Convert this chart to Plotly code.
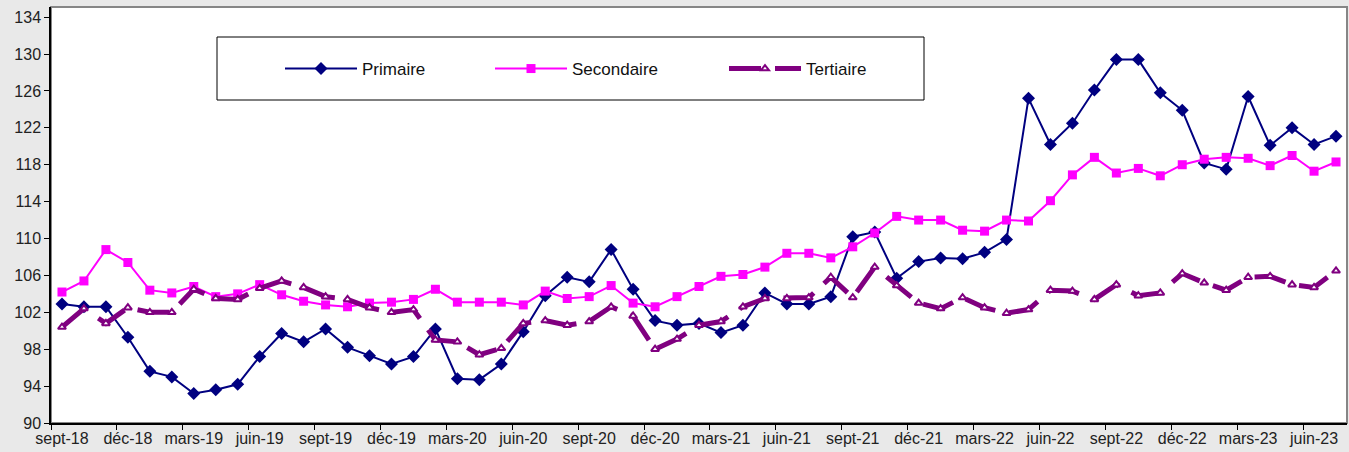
import plotly.graph_objects as go

months_fr = ["janv", "févr", "mars", "avr", "mai", "juin", "juil", "août", "sept", "oct", "nov", "déc"]
# categories: sept-18 .. juil-23
categories = []
y, m = 2018, 8
for _ in range(59):
    categories.append(f"{months_fr[m]}-{str(y)[2:]}")
    m += 1
    if m == 12:
        m = 0
        y += 1

primaire = [102.9, 102.6, 102.6, 99.3, 95.6, 95.0, 93.2, 93.6, 94.2, 97.2, 99.7, 98.8,
            100.2, 98.2, 97.3, 96.4, 97.2, 100.2, 94.8, 94.7, 96.4, 99.9, 103.8, 105.8,
            105.3, 108.8, 104.5, 101.1, 100.6, 100.8, 99.8, 100.6, 104.1, 102.9, 102.9, 103.7,
            110.2, 110.7, 105.7, 107.5, 107.9, 107.8, 108.5, 109.9, 125.2, 120.2, 122.5, 126.1,
            129.4, 129.4, 125.8, 123.9, 118.2, 117.5, 125.4, 120.1, 122.0, 120.2, 121.1]
secondaire = [104.2, 105.4, 108.8, 107.4, 104.4, 104.1, 104.8, 103.7, 104.0, 105.0, 103.9, 103.2,
              102.8, 102.6, 103.0, 103.1, 103.4, 104.5, 103.1, 103.1, 103.1, 102.8, 104.3, 103.5,
              103.7, 104.9, 103.0, 102.6, 103.7, 104.8, 105.9, 106.1, 106.9, 108.4, 108.4, 107.9,
              109.1, 110.6, 112.4, 112.0, 112.0, 110.9, 110.8, 112.0, 111.9, 114.1, 116.9, 118.8,
              117.1, 117.6, 116.8, 118.0, 118.6, 118.8, 118.7, 117.9, 119.0, 117.3, 118.3]
tertiaire = [100.4, 102.4, 100.8, 102.5, 102.0, 102.0, 104.5, 103.5, 103.4, 104.6, 105.4, 104.7,
             103.7, 103.4, 102.5, 102.0, 102.3, 99.0, 98.8, 97.4, 98.1, 100.8, 101.1, 100.6,
             101.0, 102.6, 101.6, 98.0, 99.1, 100.6, 101.0, 102.6, 103.5, 103.5, 103.6, 105.8,
             103.6, 106.9, 104.9, 103.0, 102.4, 103.6, 102.5, 101.9, 102.3, 104.4, 104.3, 103.4,
             105.0, 103.8, 104.1, 106.2, 105.2, 104.4, 105.8, 105.9, 105.0, 104.7, 106.5]

y_ticks = list(range(90, 135, 4))

FONT = "Liberation Sans, Arial, sans-serif"

fig = go.Figure()
fig.add_trace(go.Scatter(
    x=categories, y=primaire, name="Primaire", mode="lines+markers",
    line=dict(color="#000080", width=2),
    marker=dict(symbol="diamond", size=10, color="#000080"),
    legend="legend", showlegend=True))
fig.add_trace(go.Scatter(
    x=categories, y=secondaire, name="Secondaire", mode="lines+markers",
    line=dict(color="#FF00FF", width=2),
    marker=dict(symbol="square", size=9, color="#FF00FF"),
    legend="legend2", showlegend=True))
fig.add_trace(go.Scatter(
    x=categories, y=tertiaire, name="Tertiaire", mode="lines+markers",
    line=dict(color="#800080", width=5, dash="32px,14px"),
    marker=dict(symbol="triangle-up", size=7, color="white",
                line=dict(color="#800080", width=2)),
    legend="legend3", showlegend=True))

L, R, T, B = 51, 2, 7, 29
W, H = 1349, 452
pw, ph = W - L - R, H - T - B

def px_x(p):
    return (p - L) / pw

def px_y(p):
    return (H - B - p) / ph

leg_common = dict(orientation="h", bgcolor="rgba(0,0,0,0)", borderwidth=0,
                  font=dict(family=FONT, size=17, color="#111111"),
                  itemwidth=72, yanchor="middle", xanchor="left", y=px_y(69))

fig.update_layout(
    width=W, height=H,
    margin=dict(l=L, r=R, t=T, b=B, autoexpand=False),
    paper_bgcolor="#e9e9e9",
    plot_bgcolor="white",
    showlegend=True,
    font=dict(family=FONT, size=16, color="#222222"),
    legend=dict(**leg_common, x=px_x(280)),
    legend2=dict(**leg_common, x=px_x(490)),
    legend3=dict(**leg_common, x=px_x(724)),
    xaxis=dict(
        type="category", categoryorder="array", categoryarray=categories,
        range=[-0.5, len(categories) - 0.5],
        tickmode="linear", tick0=0, dtick=3, tickson="boundaries",
        ticks="outside", ticklen=5, tickcolor="black", tickwidth=1,
        tickangle=0, automargin=False,
        showline=True, linecolor="black", linewidth=1.5,
        showgrid=False, zeroline=False,
        tickfont=dict(family=FONT, size=16, color="#222222"),
    ),
    yaxis=dict(
        range=[90, 135.1], tickmode="array", tickvals=y_ticks,
        ticks="outside", ticklen=5, tickcolor="black", tickwidth=1,
        automargin=False,
        showline=True, linecolor="black", linewidth=1.5,
        showgrid=False, zeroline=False,
        tickfont=dict(family=FONT, size=16, color="#222222"),
    ),
    shapes=[
        dict(type="rect", xref="paper", yref="paper", x0=0, x1=1, y0=0, y1=1,
             line=dict(color="#868686", width=2), layer="below"),
        dict(type="rect", xref="paper", yref="paper",
             x0=px_x(217), x1=px_x(924), y0=px_y(100), y1=px_y(37),
             line=dict(color="black", width=1), fillcolor="white", layer="below"),
    ],
)

fig.write_html(
    "out.html",
    config={"displayModeBar": False},
    post_script="document.body.style.margin='0';document.body.style.overflow='hidden';"
                "document.body.style.background='#e9e9e9';",
)
